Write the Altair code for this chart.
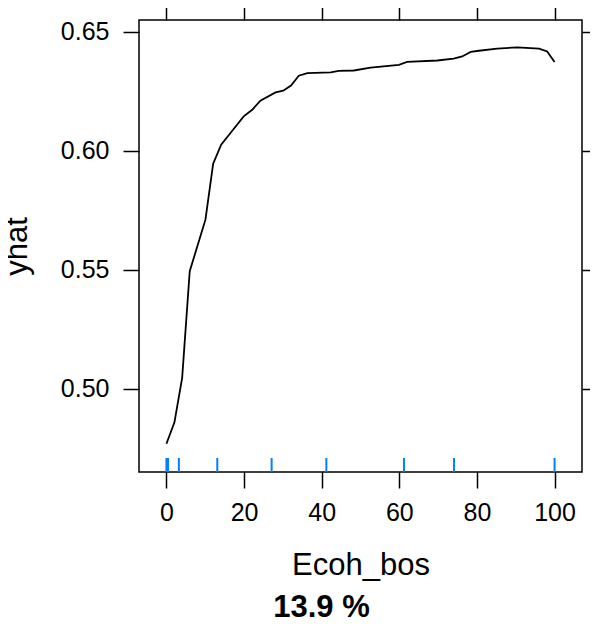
import altair as alt
import pandas as pd

# Partial dependence curve (Ecoh_bos -> yhat)
x_vals = [0, 2.06, 4.05, 6.0, 10.05, 12.04, 14.1, 16.5, 19.9, 22.1, 24.2, 28.1,
          30.1, 32.1, 34.1, 36.3, 42.3, 44.4, 48.3, 52.6, 59.9, 62.0, 69.8,
          74.0, 76.2, 78.4, 80.5, 85.2, 90.4, 96.0, 98.1, 100]
yhat = [0.4768, 0.4858, 0.5045, 0.5493, 0.5710, 0.5945, 0.6025, 0.6074,
        0.6144, 0.6172, 0.6210, 0.6245, 0.6252, 0.6274, 0.6315, 0.6326,
        0.6329, 0.6335, 0.6337, 0.6349, 0.6361, 0.6373, 0.6379, 0.6387,
        0.6396, 0.6415, 0.6420, 0.6429, 0.6434, 0.6429, 0.6417, 0.6373]

# Rug (deciles of Ecoh_bos)
rug_x = [0, 0.4, 3.2, 13.1, 27.1, 41.2, 61.2, 74.1, 100]

x_ticks = [0, 20, 40, 60, 80, 100]
y_ticks = [0.50, 0.55, 0.60, 0.65]

curve = pd.DataFrame({"Ecoh_bos": x_vals, "yhat": yhat})
rug = pd.DataFrame({"Ecoh_bos": rug_x})

FONT = "Liberation Sans"
FS = 25      # tick labels
TFS = 31     # axis titles / sub
xs = alt.Scale(domain=[-7.07, 107.07], nice=False, zero=False)
ys = alt.Scale(domain=[0.46493, 0.65492], nice=False, zero=False)

common_axis = dict(domain=False, grid=False, tickSize=16, tickWidth=1.5,
                   tickColor="black", labelFont=FONT, labelFontSize=FS,
                   labelColor="black")

line = alt.Chart(curve).mark_line(color="black", strokeWidth=1.8).encode(
    x=alt.X("Ecoh_bos:Q", scale=xs,
            axis=alt.Axis(orient="bottom", values=x_ticks, labelPadding=12,
                          title="Ecoh_bos", titleFont=FONT, titleFontSize=TFS,
                          titleFontWeight="normal", titleColor="black",
                          titleBaseline="alphabetic", titleY=102,
                          **common_axis)),
    y=alt.Y("yhat:Q", scale=ys,
            axis=alt.Axis(orient="left", values=y_ticks, format=".2f",
                          labelPadding=14, title="yhat", titleFont=FONT,
                          titleFontSize=TFS, titleFontWeight="normal",
                          titleColor="black", titleAngle=270,
                          titleBaseline="alphabetic", titleX=-113, titleY=226,
                          **common_axis)),
)

mirror = alt.Chart(curve).mark_line(strokeOpacity=0).encode(
    x=alt.X("Ecoh_bos:Q", scale=xs,
            axis=alt.Axis(orient="top", values=x_ticks, labels=False, title=None,
                          **common_axis)),
    y=alt.Y("yhat:Q", scale=ys,
            axis=alt.Axis(orient="right", values=y_ticks, labels=False, title=None,
                          **common_axis)),
)

rug_layer = alt.Chart(rug).mark_rule(color="#0080FF", strokeWidth=2).encode(
    x=alt.X("Ecoh_bos:Q", scale=xs, axis=None),
    y=alt.value(438),
    y2=alt.value(452),
)

chart = alt.layer(line, mirror, rug_layer).resolve_axis(
    x="independent", y="independent"
).properties(
    width=443, height=452,
    padding={"left": 131, "top": 12, "right": 8, "bottom": 152},
    autosize=alt.AutoSizeParams(type="none"),
    background="white",
    title=alt.TitleParams("13.9 %", orient="bottom", font=FONT, fontSize=TFS,
                          fontWeight="bold", color="black", anchor="middle",
                          offset=13, dx=-39),
).configure_view(stroke="black", strokeWidth=1.5)

chart.save("out.html", embed_options={"renderer": "svg", "actions": False})
